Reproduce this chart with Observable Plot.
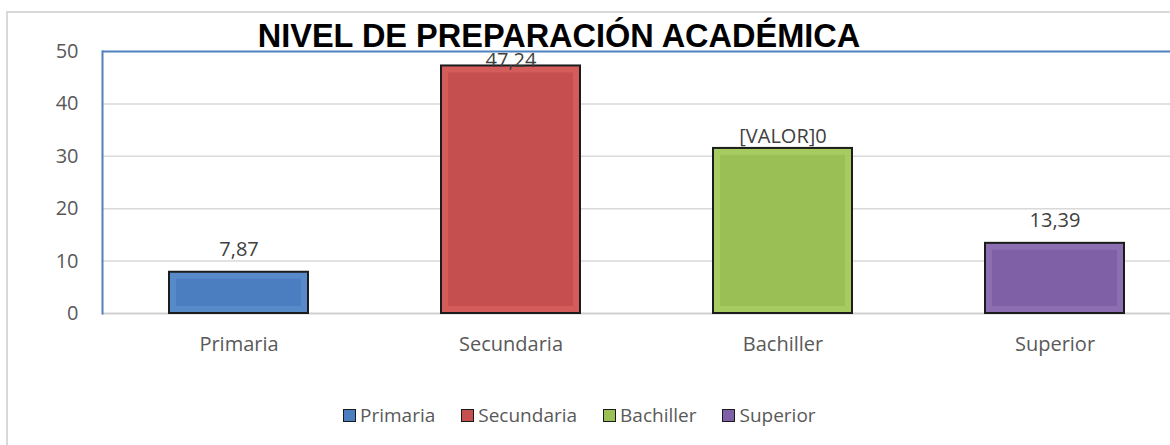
<!DOCTYPE html>
<html>
<head>
<meta charset="utf-8">
<script src="https://cdn.jsdelivr.net/npm/d3@7"></script>
<script src="https://cdn.jsdelivr.net/npm/@observablehq/plot@0.6"></script>
<style>
  html, body { margin: 0; padding: 0; background: #fff; }
  #wrap { position: relative; width: 1170px; height: 445px; overflow: hidden; font-family: "Open Sans", sans-serif; }
  #border { position: absolute; left: 6px; top: 11px; width: 1200px; height: 500px; border-left: 2px solid #d9d9d9; border-top: 2px solid #d9d9d9; }
  #chart { position: absolute; left: 0; top: 0; }
  #title { position: absolute; left: 559px; top: 20px; transform: translateX(-50%); font: bold 32.5px "Liberation Sans", Arial, sans-serif; line-height: 32px; color: #000; white-space: nowrap; }
  #legend { position: absolute; left: 343px; top: 403px; display: flex; font-size: 19px; color: #595959; line-height: 24px; }
  .item { display: flex; align-items: center; margin-right: 26px; }
  .sw { width: 11px; height: 11px; border: 1.5px solid #1a1a1a; margin-right: 4px; }
</style>
</head>
<body>
<div id="wrap">
  <div id="border"></div>
  <div id="chart"></div>
  <div id="title"></div>
  <div id="legend"></div>
</div>
<script>
const titleText = "NIVEL DE PREPARACIÓN ACADÉMICA";
const categories = ["Primaria", "Secundaria", "Bachiller", "Superior"];
const values = [7.87, 47.24, 31.5, 13.39];
const labels = ["7,87", "47,24", "[VALOR]0", "13,39"];
const yTicks = [0, 10, 20, 30, 40, 50];
const bodyColors = ["#4a7ec0", "#c44f4e", "#9abf55", "#7f60a6"];
const edgeColors = ["#5889c9", "#d45d5c", "#a6cb60", "#8c6eb3"];

const data = categories.map((c, i) => ({ cat: c, value: values[i], label: labels[i] }));

const fsAxis = 20;
const plot = Plot.plot({
  width: 1170,
  height: 370,
  marginTop: 51,
  marginBottom: 57,
  marginLeft: 102,
  marginRight: 0,
  style: { fontFamily: "'Open Sans', sans-serif", fontSize: fsAxis + "px", color: "#595959", background: "transparent", overflow: "visible" },
  x: { domain: categories, range: [102, 1190], paddingInner: 0.49, paddingOuter: 0.245, label: null },
  y: { domain: [0, 50], label: null },
  marks: [
    Plot.ruleY(yTicks.filter(d => d > 0 && d < 50), { stroke: "#d9d9d9", strokeWidth: 1.5 }),
    Plot.ruleY([0], { stroke: "#d0d0d0", strokeWidth: 2 }),
    Plot.barY(data, { x: "cat", y: "value", fill: (d, i) => edgeColors[i], stroke: "#1c1c1c", strokeWidth: 2 }),
    Plot.barY(data, { x: "cat", y: "value", fill: (d, i) => bodyColors[i], inset: 7 }),
    Plot.ruleY([50], { stroke: "#4f81bd", strokeWidth: 2 }),
    Plot.frame({ anchor: "left", stroke: "#4f81bd", strokeWidth: 2 }),
    Plot.axisY({ ticks: yTicks, tickSize: 0, tickPadding: 24, fontSize: fsAxis, tickFormat: d => String(d), fill: "#595959" }),
    Plot.axisX({ tickSize: 0, tickPadding: 23, fontSize: fsAxis, fill: "#595959", label: null }),
    Plot.text(data.filter(d => d.cat === "Primaria" || d.cat === "Superior"), { x: "cat", y: "value", text: "label", lineAnchor: "bottom", dy: -16, fill: "#404040", fontSize: 20 }),
    Plot.text(data.filter(d => d.cat === "Bachiller"), { x: "cat", y: "value", text: "label", lineAnchor: "bottom", dy: -5, fill: "#404040", fontSize: 20 }),
    Plot.text(data.filter(d => d.cat === "Secundaria"), { x: "cat", y: "value", text: "label", lineAnchor: "bottom", dy: 1, fill: "#404040", fontSize: 20 })
  ]
});
document.getElementById("chart").appendChild(plot);
document.getElementById("title").textContent = titleText;

const legend = document.getElementById("legend");
categories.forEach((c, i) => {
  const it = document.createElement("div");
  it.className = "item";
  const sw = document.createElement("div");
  sw.className = "sw";
  sw.style.background = bodyColors[i];
  const tx = document.createElement("span");
  tx.textContent = c;
  it.appendChild(sw);
  it.appendChild(tx);
  legend.appendChild(it);
});
</script>
</body>
</html>
